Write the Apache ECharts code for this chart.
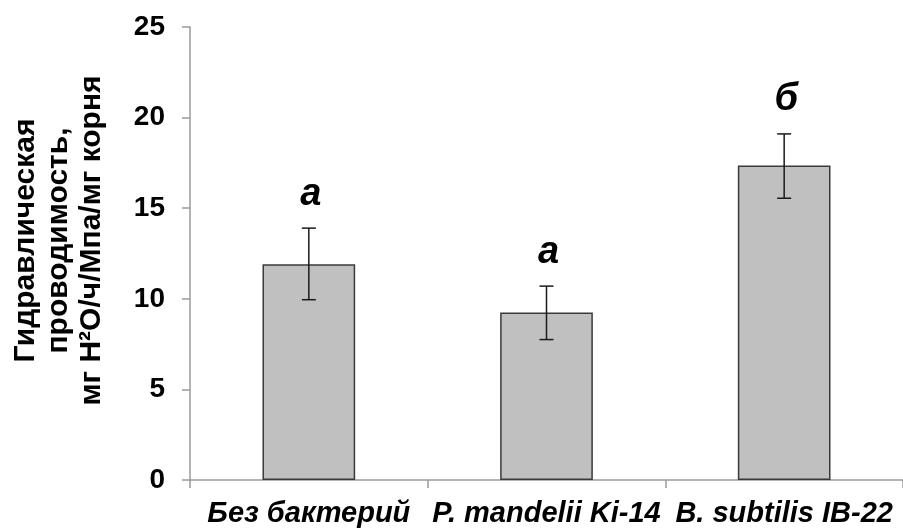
<!DOCTYPE html>
<html>
<head>
<meta charset="utf-8">
<script src="https://cdn.jsdelivr.net/npm/echarts@6/dist/echarts.min.js"></script>
<style>html,body{margin:0;padding:0;background:#fff;}#c{width:903px;height:529px;}</style>
</head>
<body>
<div id="c"></div>
<script>
var categories = ['Без бактерий', 'P. mandelii Ki-14', 'B. subtilis IB-22'];
var values = [11.9, 9.25, 17.35];
var errLow = [9.95, 7.75, 15.55];
var errHigh = [13.9, 10.7, 19.1];
var letters = ['а', 'а', 'б'];
var yTicks = { min: 0, max: 25, interval: 5 };
var yTitle = ['Гидравлическая', 'проводимость,', 'мг H²O/ч/Мпа/мг корня'];

var chart = echarts.init(document.getElementById('c'));
var font = 'Liberation Sans, Arial, sans-serif';
chart.setOption({
  animation: false,
  backgroundColor: '#ffffff',
  grid: { left: 190, right: -7, top: 27, bottom: 49, containLabel: false },
  xAxis: {
    type: 'category',
    data: categories,
    boundaryGap: true,
    axisLine: { lineStyle: { color: '#9a9a9a', width: 1.5 } },
    axisTick: { show: true, length: 8, interval: 0, lineStyle: { color: '#9a9a9a', width: 1.5 } },
    axisLabel: { interval: 0, margin: 19, color: '#000', fontFamily: font, fontWeight: 'bold', fontStyle: 'italic', fontSize: 29 },
    splitLine: { show: false }
  },
  yAxis: {
    type: 'value',
    min: yTicks.min, max: yTicks.max, interval: yTicks.interval,
    name: yTitle.join('\n'),
    nameLocation: 'middle',
    nameRotate: 90,
    nameGap: 82,
    nameTextStyle: { color: '#000', fontFamily: font, fontWeight: 'bold', fontSize: 30, lineHeight: 33, align: 'center', padding: [0, 0, 0, 26] },
    axisLine: { show: true, lineStyle: { color: '#9a9a9a', width: 1.5 } },
    axisTick: { show: true, length: 8, lineStyle: { color: '#9a9a9a', width: 1.5 } },
    axisLabel: { margin: 25, color: '#000', fontFamily: font, fontWeight: 'bold', fontSize: 28 },
    splitLine: { show: false }
  },
  series: [
    {
      type: 'bar',
      data: values,
      barWidth: '39%',
      itemStyle: { color: '#c0c0c0', borderColor: '#3a3a3a', borderWidth: 1.5 },
      z: 2
    },
    {
      type: 'custom',
      z: 5,
      data: categories.map(function (c, i) { return [i, errLow[i], errHigh[i]]; }),
      renderItem: function (params, api) {
        var i = api.value(0);
        var lo = api.coord([i, api.value(1)]);
        var hi = api.coord([i, api.value(2)]);
        var x = lo[0];
        var cap = 7;
        var st = { stroke: '#1a1a1a', lineWidth: 1.5 };
        return {
          type: 'group',
          children: [
            { type: 'line', shape: { x1: x, y1: lo[1], x2: x, y2: hi[1] }, style: st },
            { type: 'line', shape: { x1: x - cap, y1: lo[1], x2: x + cap, y2: lo[1] }, style: st },
            { type: 'line', shape: { x1: x - cap, y1: hi[1], x2: x + cap, y2: hi[1] }, style: st },
            { type: 'text', x: x + 2, y: hi[1] - 15, style: { text: letters[i], fill: '#000', font: 'italic bold 38px ' + font, textAlign: 'center', textVerticalAlign: 'bottom', verticalAlign: 'alphabetic' } }
          ]
        };
      }
    }
  ]
});
</script>
</body>
</html>
